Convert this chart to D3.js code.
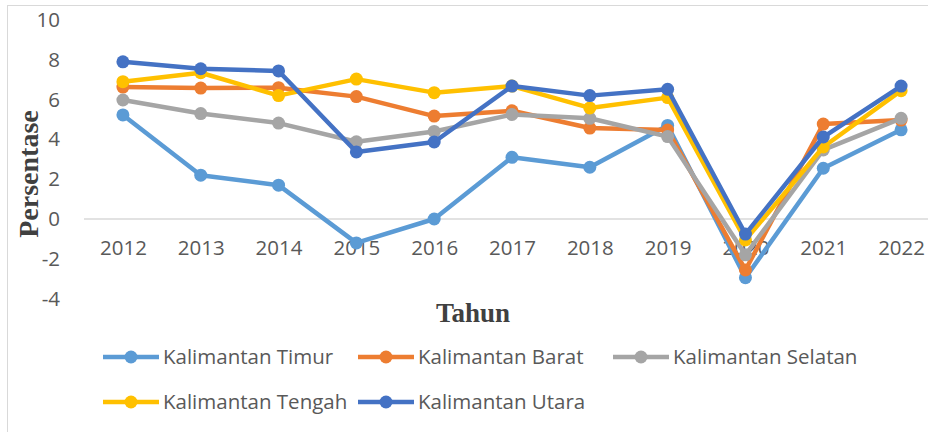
<!DOCTYPE html>
<html>
<head>
<meta charset="utf-8">
<script src="https://cdn.jsdelivr.net/npm/d3@7"></script>
<style>
  body { margin: 0; background: #fff; }
  svg { display: block; }
</style>
</head>
<body>
<div id="chart"></div>
<script>
// data
const years = ["2012", "2013", "2014", "2015", "2016", "2017", "2018", "2019", "2020", "2021", "2022"];
const yTicks = [-4, -2, 0, 2, 4, 6, 8, 10];

const kalTimur   = [5.23, 2.2, 1.7, -1.2, 0.0, 3.1, 2.6, 4.7, -2.95, 2.55, 4.48];
const kalBarat   = [6.63, 6.58, 6.6, 6.15, 5.17, 5.44, 4.57, 4.47, -2.56, 4.77, 4.97];
const kalSelatan = [5.98, 5.3, 4.82, 3.88, 4.4, 5.25, 5.06, 4.14, -1.8, 3.47, 5.06];
const kalTengah  = [6.9, 7.35, 6.2, 7.03, 6.35, 6.68, 5.58, 6.1, -1.05, 3.62, 6.45];
const kalUtara   = [7.9, 7.55, 7.44, 3.37, 3.87, 6.68, 6.2, 6.52, -0.76, 4.12, 6.68];

const seriesNames = ["Kalimantan Timur", "Kalimantan Barat", "Kalimantan Selatan", "Kalimantan Tengah", "Kalimantan Utara"];
const seriesValues = [kalTimur, kalBarat, kalSelatan, kalTengah, kalUtara];
const colors = ["#5B9BD5", "#ED7D31", "#A5A5A5", "#FFC000", "#4472C4"];

const W = 928, H = 432;
const svg = d3.select("#chart").append("svg")
  .attr("width", W).attr("height", H);

// outer chart border (cut off at right/bottom like the reference)
svg.append("rect")
  .attr("x", 7.5).attr("y", 5.5)
  .attr("width", 940).attr("height", 440)
  .attr("fill", "none").attr("stroke", "#D9D9D9").attr("stroke-width", 1);

const x = d3.scalePoint().domain(years).range([84, 940]).padding(0.5);
const y = d3.scaleLinear().domain([-4, 10]).range([298.6, 20]);

// y axis labels (plain hyphen for negatives, like Excel)
const yAxis = svg.append("g")
  .attr("transform", "translate(84,0)")
  .call(d3.axisLeft(y).tickValues(yTicks).tickSize(0).tickPadding(24).tickFormat(d => String(d)));
yAxis.select(".domain").remove();
yAxis.selectAll("text")
  .attr("font-family", "'Open Sans', sans-serif")
  .attr("font-size", 20.5)
  .attr("fill", "#595959");

// zero line
svg.append("line")
  .attr("x1", 84).attr("x2", 940)
  .attr("y1", y(0)).attr("y2", y(0))
  .attr("stroke", "#D9D9D9").attr("stroke-width", 1.3);

// x axis labels next to zero line
const xAxis = svg.append("g")
  .attr("transform", `translate(0,${y(0)})`)
  .call(d3.axisBottom(x).tickSize(0).tickPadding(21));
xAxis.select(".domain").remove();
xAxis.selectAll("text")
  .attr("font-family", "'Open Sans', sans-serif")
  .attr("font-size", 20.5)
  .attr("fill", "#595959");

// lines and markers
const line = d3.line()
  .x((d, i) => x(years[i]))
  .y(d => y(d));

seriesValues.forEach((vals, si) => {
  const g = svg.append("g");
  g.append("path")
    .datum(vals)
    .attr("d", line)
    .attr("fill", "none")
    .attr("stroke", colors[si])
    .attr("stroke-width", 4.5)
    .attr("stroke-linejoin", "round");
  g.selectAll("circle")
    .data(vals)
    .enter()
    .append("circle")
    .attr("cx", (d, i) => x(years[i]))
    .attr("cy", d => y(d))
    .attr("r", 6.5)
    .attr("fill", colors[si]);
});

// axis titles
svg.append("text")
  .attr("transform", "translate(38,174) rotate(-90)")
  .attr("text-anchor", "middle")
  .attr("font-family", "'Liberation Serif', 'Times New Roman', serif")
  .attr("font-weight", "bold")
  .attr("font-size", 28)
  .attr("fill", "#404040")
  .text("Persentase");

svg.append("text")
  .attr("x", 473).attr("y", 322)
  .attr("text-anchor", "middle")
  .attr("font-family", "'Liberation Serif', 'Times New Roman', serif")
  .attr("font-weight", "bold")
  .attr("font-size", 27)
  .attr("fill", "#404040")
  .text("Tahun");

// legend
const legendPos = [[103, 357], [358, 357], [613, 357], [103, 402], [358, 402]];
seriesNames.forEach((name, i) => {
  const [lx, ly] = legendPos[i];
  const g = svg.append("g").attr("transform", `translate(${lx},${ly})`);
  g.append("line")
    .attr("x1", 0).attr("x2", 56)
    .attr("y1", 0).attr("y2", 0)
    .attr("stroke", colors[i]).attr("stroke-width", 4.5);
  g.append("circle")
    .attr("cx", 28).attr("cy", 0).attr("r", 6.5)
    .attr("fill", colors[i]);
  g.append("text")
    .attr("x", 60).attr("y", 0)
    .attr("dy", "0.35em")
    .attr("font-family", "'Open Sans', sans-serif")
    .attr("font-size", 20.5)
    .attr("fill", "#595959")
    .text(name);
});
</script>
</body>
</html>
